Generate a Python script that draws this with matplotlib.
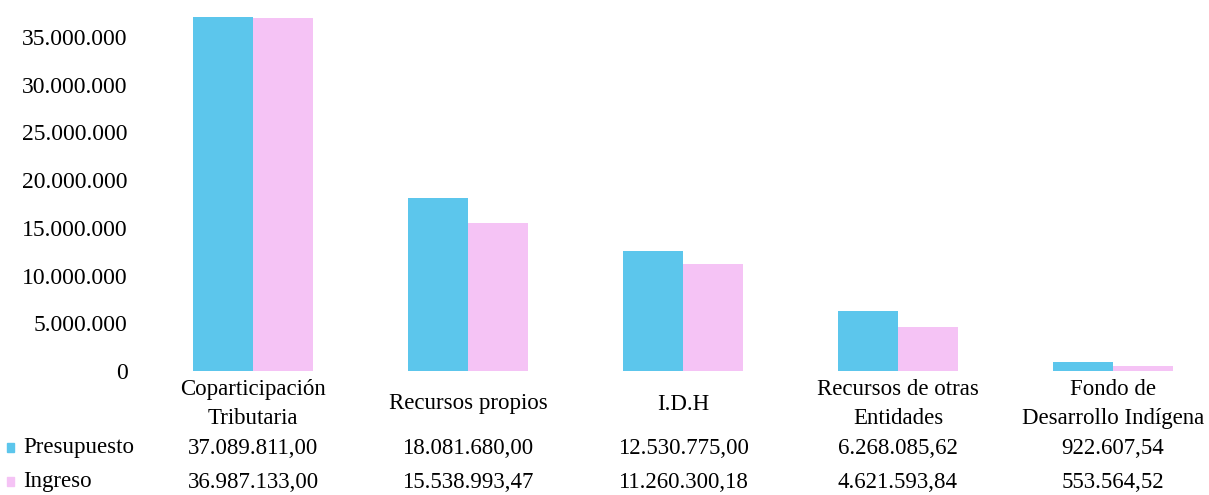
import matplotlib.pyplot as plt
from matplotlib.patches import Rectangle
from matplotlib.transforms import blended_transform_factory
import numpy as np

plt.rcParams['font.family'] = ['Liberation Serif', 'DejaVu Serif']

categorias = ['Coparticipación\nTributaria', 'Recursos propios', 'I.D.H',
              'Recursos de otras\nEntidades', 'Fondo de\nDesarrollo Indígena']
presupuesto = [37089811.00, 18081680.00, 12530775.00, 6268085.62, 922607.54]
ingreso = [36987133.00, 15538993.47, 11260300.18, 4621593.84, 553564.52]
series = ['Presupuesto', 'Ingreso']
colores = ['#5cc6ec', '#f5c3f5']


def miles(v, dec=0):
    s = f"{v:,.{dec}f}"
    return s.replace(',', 'X').replace('.', ',').replace('X', '.')


W, H = 1209, 495
fig = plt.figure(figsize=(W / 100, H / 100), dpi=100)
ax = fig.add_axes([145.5 / W, 1 - 371 / H, 1075 / W, (371 - 8.4) / H])

x = np.arange(len(categorias))
bw = 0.28
ax.bar(x - bw / 2, presupuesto, bw, color=colores[0])
ax.bar(x + bw / 2, ingreso, bw, color=colores[1])

ax.set_xlim(-0.5, len(categorias) - 0.5)
ax.set_ylim(0, 38e6)
yt = np.arange(0, 35e6 + 1, 5e6)
ax.set_yticks(yt)
ax.set_yticklabels([miles(v) for v in yt], fontsize=17)
ax.tick_params(axis='y', length=0, pad=13)
ax.set_xticks([])
for s in ax.spines.values():
    s.set_visible(False)

tr = blended_transform_factory(ax.transData, fig.transFigure)
fs = 16.5
for i, c in enumerate(categorias):
    ax.text(i, 1 - 404 / H, c, transform=tr, ha='center', va='center',
            fontsize=fs, linespacing=1.45)
    ax.text(i, 1 - 448 / H, miles(presupuesto[i], 2), transform=tr,
            ha='center', va='center', fontsize=fs)
    ax.text(i, 1 - 482 / H, miles(ingreso[i], 2), transform=tr,
            ha='center', va='center', fontsize=fs)

for name, col, ypx in zip(series, colores, [448, 482]):
    fig.patches.append(Rectangle((7 / W, 1 - (ypx + 4) / H), 7 / W, 9 / H,
                                 transform=fig.transFigure, color=col))
    fig.text(23 / W, 1 - ypx / H, name, ha='left', va='center', fontsize=fs)

fig.savefig('out.png', dpi=100)
